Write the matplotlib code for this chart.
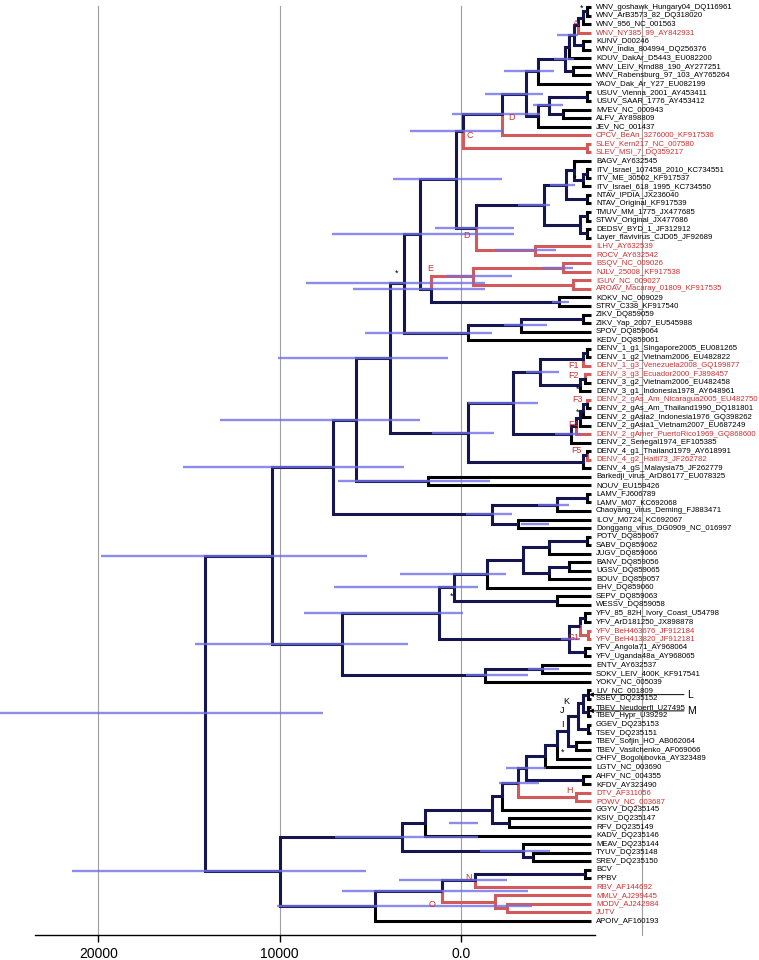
import matplotlib
matplotlib.use("Agg")
import matplotlib.pyplot as plt

# tip labels, top to bottom
tip_names = [
    "WNV_goshawk_Hungary04_DQ116961", "WNV_ArB3573_82_DQ318020", "WNV_956_NC_001563",
    "WNV_NY385_99_AY842931", "KUNV_D00246", "WNV_India_804994_DQ256376",
    "KOUV_DakAr_D5443_EU082200", "WNV_LEIV_Krnd88_190_AY277251", "WNV_Rabensburg_97_103_AY765264",
    "YAOV_Dak_Ar_Y27_EU082199", "USUV_Vienna_2001_AY453411", "USUV_SAAR_1776_AY453412",
    "MVEV_NC_000943", "ALFV_AY898809", "JEV_NC_001437",
    "CPCV_BeAn_3276000_KF917536", "SLEV_Kern217_NC_007580", "SLEV_MSI_7_DQ359217",
    "BAGV_AY632545", "ITV_Israel_107458_2010_KC734551", "ITV_ME_30502_KF917537",
    "ITV_Israel_618_1995_KC734550", "NTAV_IPDIA_JX236040", "NTAV_Original_KF917539",
    "TMUV_MM_1775_JX477685", "STWV_Original_JX477686", "DEDSV_BYD_1_JF312912",
    "Layer_flavivirus_CJD05_JF92689", "ILHV_AY632539", "ROCV_AY632542",
    "BSQV_NC_009026", "NJLV_25008_KF917538", "IGUV_NC_009027",
    "AROAV_Macaray_01809_KF917535", "KOKV_NC_009029", "STRV_C338_KF917540",
    "ZIKV_DQ859059", "ZIKV_Yap_2007_EU545988", "SPOV_DQ859064", "KEDV_DQ859061",
    "DENV_1_g1_Singapore2005_EU081265", "DENV_1_g2_Vietnam2006_EU482822",
    "DENV_1_g3_Venezuela2008_GQ199877", "DENV_3_g3_Ecuador2000_FJ898457",
    "DENV_3_g2_Vietnam2006_EU482458", "DENV_3_g1_Indonesia1978_AY648961",
    "DENV_2_gAs_Am_Nicaragua2005_EU482750", "DENV_2_gAs_Am_Thailand1990_DQ181801",
    "DENV_2_gAsia2_Indonesia1976_GQ398262", "DENV_2_gAsia1_Vietnam2007_EU687249",
    "DENV_2_gAmer_PuertoRico1969_GQ868600", "DENV_2_Senegal1974_EF105385",
    "DENV_4_g1_Thailand1979_AY618991", "DENV_4_g2_Haiti73_JF262782",
    "DENV_4_gS_Malaysia75_JF262779", "Barkedji_virus_ArD86177_EU078325", "NOUV_EU159426",
    "LAMV_FJ606789", "LAMV_M07_KC692068", "Chaoyang_virus_Deming_FJ883471",
    "ILOV_M0724_KC692067", "Donggang_virus_DG0909_NC_016997",
    "POTV_DQ859067", "SABV_DQ859062", "JUGV_DQ859066", "BANV_DQ859056", "UGSV_DQ859065",
    "BOUV_DQ859057", "EHV_DQ859060", "SEPV_DQ859063", "WESSV_DQ859058",
    "YFV_85_82H_Ivory_Coast_U54798", "YFV_ArD181250_JX898878", "YFV_BeH463676_JF912184",
    "YFV_BeH413820_JF912181", "YFV_Angola71_AY968064", "YFV_Uganda48a_AY968065",
    "ENTV_AY632537", "SOKV_LEIV_400K_KF917541", "YOKV_NC_005039",
    "LIV_NC_001809", "SSEV_DQ235152", "TBEV_Neudoerfl_U27495", "TBEV_Hypr_U39292",
    "GGEV_DQ235153", "TSEV_DQ235151", "TBEV_Sofjin_HO_AB062064", "TBEV_Vasilchenko_AF069066",
    "OHFV_Bogolubovka_AY323489", "LGTV_NC_003690", "AHFV_NC_004355", "KFDV_AY323490",
    "DTV_AF311056", "POWV_NC_003687", "GGYV_DQ235145", "KSIV_DQ235147", "RFV_DQ235149",
    "KADV_DQ235146", "MEAV_DQ235144", "TYUV_DQ235148", "SREV_DQ235150",
    "BCV", "PPBV", "RBV_AF144692", "MMLV_AJ299445", "MODV_AJ242984", "JUTV", "APOIV_AF160193",
]
red_tips = [3, 15, 16, 17, 28, 29, 30, 31, 32, 33, 42, 43, 46, 50, 53, 73, 74, 92, 93, 103, 104, 105, 106]

# internal nodes: first tip, last tip, node height on the time axis
nodes = [
    (0, 1, -6930), (0, 2, -6740), (0, 3, -6450), (4, 5, -6740), (0, 5, -6260), (0, 6, -5980),
    (7, 8, -6170), (0, 8, -5750), (0, 9, -4270), (10, 11, -6930), (12, 13, -5600),
    (10, 13, -4840), (10, 14, -4270), (0, 14, -3610), (0, 15, -2280), (16, 17, -6930),
    (0, 17, -95),
    (19, 20, -6930), (19, 21, -6740), (18, 21, -6260), (22, 23, -6930), (18, 23, -5790),
    (24, 25, -6930), (26, 27, -6930), (24, 27, -6550), (18, 27, -4560), (28, 29, -4080),
    (18, 29, -850), (0, 29, 280), (30, 31, -5600), (32, 33, -6170), (30, 33, -660),
    (34, 35, -5410), (30, 35, 1650), (0, 35, 2280), (36, 37, -6740), (36, 38, -3320),
    (36, 39, -380), (0, 39, 3130),
    (40, 41, -6930), (40, 42, -6740), (43, 44, -6830), (43, 45, -6590), (40, 45, -4370),
    (46, 47, -6930), (46, 48, -6740), (46, 49, -6550), (46, 50, -6360), (46, 51, -6070),
    (40, 51, -2850), (52, 53, -6930), (52, 54, -6740), (40, 54, -380), (0, 54, 3890),
    (55, 56, 1800), (0, 56, 5790),
    (57, 58, -6930), (57, 59, -5310), (60, 61, -3130), (57, 61, -1710), (0, 61, 7060),
    (62, 63, -6930), (62, 64, -4840), (65, 66, -5980), (65, 67, -4840), (62, 67, -3420),
    (62, 68, -1420), (69, 70, -5310), (62, 70, 380), (71, 72, -6830), (73, 74, -7000),
    (71, 74, -6550), (75, 76, -6830), (71, 76, -5980), (62, 76, 1230), (77, 78, -4460),
    (77, 79, -1330), (62, 79, 6550), (0, 79, 10400),
    (80, 81, -7000), (82, 83, -7020), (80, 83, -6740), (84, 85, -7000), (80, 85, -6450),
    (86, 87, -6360), (80, 87, -5880), (80, 88, -5310), (80, 89, -4650), (90, 91, -6740),
    (80, 91, -3610), (92, 93, -6360), (80, 93, -3130), (80, 94, -2280), (95, 96, -2660),
    (80, 96, -1710), (80, 97, 1990), (99, 100, -3990), (98, 100, -3420), (80, 100, 3260),
    (101, 102, -6830), (101, 103, -760), (105, 106, -2560), (104, 106, -1900),
    (101, 106, 1040), (101, 107, 4750), (80, 107, 9960), (0, 107, 14140),
]

# 95% HPD intervals of node heights: first tip, last tip, upper, lower
hpd = [
    (0, 107, 25430, 7590), (0, 79, 19870, 5160), (80, 107, 21450, 5220),
    (0, 61, 15320, 3130), (0, 56, 13270, 2240), (0, 54, 10120, 700), (62, 79, 14650, 2900),
    (0, 39, 8560, -1330), (30, 35, 5980, -1330), (0, 35, 7120, -2900), (18, 29, 1420, -2900),
    (0, 29, 3740, -2240), (0, 17, 2790, -2370), (0, 15, 470, -4370), (0, 14, -1330, -4550),
    (0, 9, -2370, -5120), (18, 27, -3130, -4930), (30, 33, 850, -2840), (36, 39, 5310, -1700),
    (36, 38, -2370, -4740), (40, 54, 1610, -1800), (40, 51, -380, -4270), (40, 45, -3600, -5400),
    (55, 56, 6770, -1610), (57, 61, -280, -2840), (62, 76, 8670, -95), (62, 70, 7020, -950),
    (62, 68, 3390, -2470), (77, 79, -280, -3700), (80, 100, 6930, -950),
    (101, 107, 10150, -3890), (101, 106, 6570, -3700), (101, 103, 3400, -2560),
    (28, 29, -1900, -5220), (30, 31, -4460, -6170), (0, 8, -5120, -6260), (10, 13, -3990, -5600),
    (34, 35, -5030, -5980), (57, 59, -4270, -5980), (60, 61, -3320, -4840), (77, 78, -3700, -5410),
    (80, 97, 660, -950), (98, 100, -1040, -4930), (0, 5, -5300, -6450), (18, 23, -4900, -6300),
    (46, 51, -5200, -6550), (71, 76, -5500, -6550), (80, 91, -2500, -4700), (80, 93, -2100, -4300),
]

# node annotations: text, axis position, tip row, colour
annotations = [
    ("*", -6675, 0.2, "black"), ("A", -6345, 1.9, "#d22f2f"), ("D", -2810, 12.9, "#d22f2f"),
    ("C", -475, 15.0, "#d22f2f"), ("*", -6290, 18.5, "black"), ("*", -6290, 20.1, "black"),
    ("D", -300, 26.8, "#d22f2f"), ("E", 1700, 30.6, "#d22f2f"), ("*", 3550, 31.2, "black"),
    ("F1", -6180, 42.0, "#d22f2f"), ("F2", -6180, 43.1, "#d22f2f"), ("*", -6450, 44.8, "black"),
    ("F3", -6450, 45.9, "#d22f2f"), ("*", -6450, 47.4, "black"), ("F4", -6180, 48.9, "#d22f2f"),
    ("F5", -6350, 51.9, "#d22f2f"), ("*", 500, 69.0, "black"), ("G1", -6180, 73.8, "#d22f2f"),
    ("K", -5780, 81.3, "black"), ("J", -5560, 82.3, "black"), ("I", -5610, 84.0, "black"),
    ("*", -5610, 87.2, "black"), ("H", -5980, 91.7, "#d22f2f"), ("N", -390, 101.9, "#d22f2f"),
    ("O", 1600, 105.1, "#d22f2f"),
]
# pointer labels: text, tip row, arrow tip, line end
pointers = [("L", 80.5, -7060, -12300), ("M", 82.4, -7060, -12300)]

TIP = -7150

n_tips = len(tip_names)
clades = [(i, i, TIP) for i in range(n_tips)] + list(nodes)

def span(c):
    return clades[c][1] - clades[c][0]

parent = {}
for c in range(len(clades)):
    best = None
    for p in range(n_tips, len(clades)):
        if p != c and clades[p][0] <= clades[c][0] and clades[c][1] <= clades[p][1] \
                and span(p) > span(c):
            if best is None or span(p) < span(best):
                best = p
    parent[c] = best

children = {c: [] for c in range(len(clades))}
for c, p in parent.items():
    if p is not None:
        children[p].append(c)
for p in children:
    children[p].sort(key=lambda c: clades[c][0])

ypos = {}
def get_y(c):
    if c not in ypos:
        if c < n_tips:
            ypos[c] = float(c)
        else:
            ch = children[c]
            ypos[c] = (get_y(ch[0]) + get_y(ch[-1])) / 2
    return ypos[c]

for c in range(len(clades)):
    get_y(c)

red_set = set(red_tips)
def is_red(c):
    return all(i in red_set for i in range(clades[c][0], clades[c][1] + 1))

BLACK = "#000000"
NAVY = "#15154f"
RED = "#d25a5a"
LW = 2.2

def branch_color(c):
    if is_red(c):
        return RED
    return BLACK if c < n_tips else NAVY

fig = plt.figure(figsize=(7.59, 9.60), dpi=100)
ax = fig.add_axes([35 / 759, 25 / 960, 560 / 759, 935 / 960])

for c in range(len(clades)):
    p = parent[c]
    if p is None:
        continue
    col = branch_color(c)
    ax.plot([clades[p][2], clades[c][2]], [ypos[c], ypos[c]], color=col, lw=LW,
            solid_capstyle="butt", zorder=2)
    # half of the parent's vertical bar, toward this child
    ax.plot([clades[p][2]] * 2, [ypos[p], ypos[c]], color=col, lw=LW,
            solid_capstyle="projecting", zorder=2)

idx = {(clades[c][0], clades[c][1]): c for c in range(n_tips, len(clades))}
for first, last, hi, lo in hpd:
    c = idx[(first, last)]
    ax.plot([hi, lo], [ypos[c]] * 2, color="#7070ea", lw=1.7, alpha=0.8,
            solid_capstyle="butt", zorder=3, clip_on=False)

for i, name in enumerate(tip_names):
    ax.text(TIP - 300, i, name, fontsize=5.6, family="Liberation Sans", va="center", ha="left",
            color="#d22f2f" if i in red_set else "black", clip_on=False)

for txt, xv, row, col in annotations:
    ax.text(xv, row, txt, fontsize=6.5, family="Liberation Sans", ha="center", va="center",
            color=col, zorder=5)

for txt, row, x_tip, x_end in pointers:
    ax.annotate("", xy=(x_tip, row), xytext=(x_end, row), annotation_clip=False,
                arrowprops=dict(arrowstyle="-|>", lw=0.7, color="black", mutation_scale=6,
                                shrinkA=0, shrinkB=0))
    ax.text(x_end - 150, row, txt, fontsize=7.5, family="Liberation Sans", ha="left",
            va="center", clip_on=False)

ax.set_xlim(23503, -7393)
ax.set_ylim(n_tips - 1 + 1.64, -0.82)
for v in [20000, 10000, 0, -10000]:
    ax.plot([v, v], [-0.1, n_tips - 1 + 1.64], color="#a0a0a0", lw=0.8, zorder=0, clip_on=False)
ax.set_xticks([20000, 10000, 0])
ax.set_xticklabels(["20000", "10000", "0.0"], fontsize=10, family="Liberation Sans")
ax.set_yticks([])
for s in ["top", "right", "left"]:
    ax.spines[s].set_visible(False)
ax.spines["bottom"].set_linewidth(1.0)
ax.tick_params(axis="x", length=5, width=1.0)

fig.savefig("out.png", dpi=100)
